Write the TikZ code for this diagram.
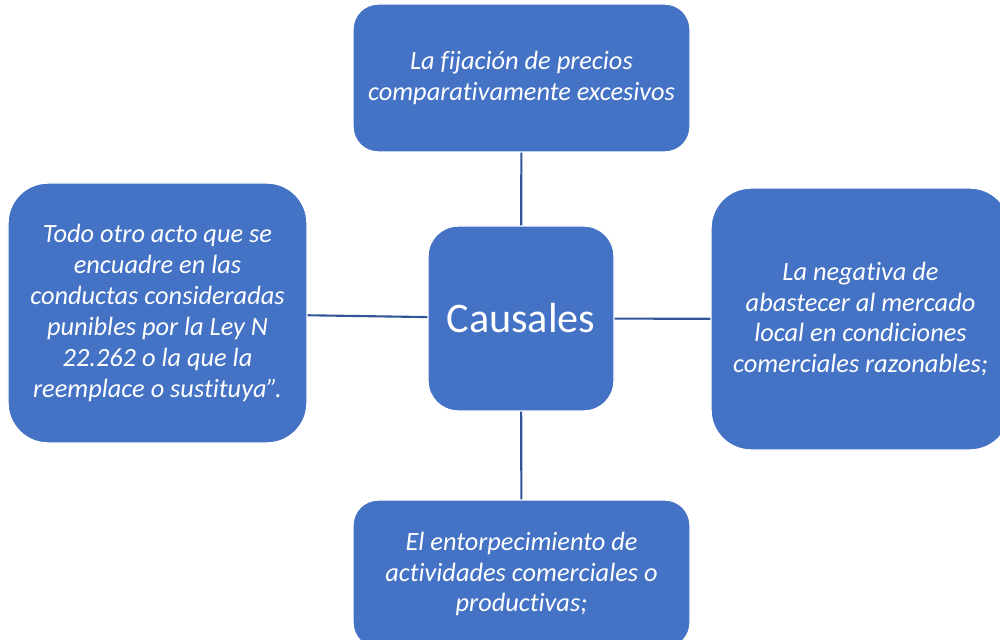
\documentclass[tikz,border=0pt]{standalone}
\usepackage{fontspec}
\setmainfont{Carlito}[Ligatures=NoCommon]
\definecolor{boxblue}{HTML}{4472C4}
\definecolor{lineblue}{HTML}{2F5597}
\tikzset{
  causebox/.style={rectangle, fill=boxblue, draw=white, line width=0.8pt,
    text=white, align=center, inner sep=0pt,
    font=\itshape\fontsize{15}{17.6}\selectfont},
  link/.style={draw=lineblue, line width=1.2pt}
}

\begin{document}
\begin{tikzpicture}
  \useasboundingbox (0, 0) rectangle (20, 12.78);
  \node (centro) at (10.42, 6.41)[causebox, minimum width=3.72cm, minimum height=3.7cm,
    rounded corners=0.6cm, font=\fontsize{24}{28}\selectfont]{Causales};
  \node (precios) at (10.43, 11.22)[causebox, minimum width=6.74cm, minimum height=2.96cm,
    rounded corners=0.5cm]{La fijación de precios\\comparativamente excesivos};
  \node (otro) at (3.15, 6.52)[causebox, minimum width=5.98cm, minimum height=5.2cm,
    rounded corners=0.8cm]{Todo otro acto que se\\encuadre en las\\conductas consideradas\\punibles por la Ley N\\22.262 o la que la\\reemplace o sustituya”.};
  \node (negativa) at (17.21, 6.4)[causebox, minimum width=5.98cm, minimum height=5.24cm,
    rounded corners=0.8cm]{La negativa de\\abastecer al mercado\\local en condiciones\\comerciales razonables;};
  \node (entorpec) at (10.43, 1.3)[causebox, minimum width=6.74cm, minimum height=2.96cm,
    rounded corners=0.5cm]{El entorpecimiento de\\actividades comerciales o\\productivas;};
  % conectores
  \draw[link] (precios) -- (centro);
  \draw[link] (otro) -- (centro);
  \draw[link] (centro) -- (negativa);
  \draw[link] (centro) -- (entorpec);
\end{tikzpicture}
\end{document}
